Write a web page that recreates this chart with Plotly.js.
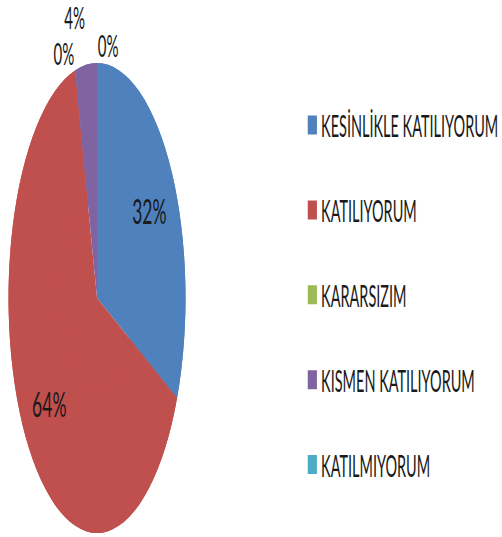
<!DOCTYPE html>
<html><head><meta charset="utf-8">
<script src="https://cdn.plot.ly/plotly-3.0.1.min.js"></script>
<style>
html,body{margin:0;padding:0;overflow:hidden;background:#fff;width:502px;height:537px}
#wrap{position:absolute;left:0;top:0;width:1092px;height:537px;transform:scaleX(0.46);transform-origin:0 0}
#chart{width:1092px;height:537px}
#chart .pielayer g.trace{transform-box:view-box;transform-origin:102px 298px;transform:scaleX(0.8187)}
#chart .pielayer g.slicetext{transform-box:fill-box;transform-origin:center;transform:scaleX(1.3276)}
#chart .pielayer path.textline{display:none}
#chart path.legendpie{d:path('M-9,9.5H11V-9.5H-9Z')}
</style>
</head><body>
<div id="wrap"><div id="chart"></div></div>
<script>
const categories = ['KESİNLİKLE KATILIYORUM', 'KATILIYORUM', 'KARARSIZIM', 'KISMEN KATILIYORUM', 'KATILMIYORUM'];
const counts = [8, 16, 0, 1, 0];
const colors = ['#4F81BD', '#C0504D', '#9BBB59', '#8064A2', '#4BACC6'];

const legendLabels = categories.map(c => c + '<br> ');
const pieDomain = {x: [0, 470 / 1092], y: [4 / 537, 474 / 537]};
const insideFont = {family: 'Lato, sans-serif', size: 35, color: '#1a1a1a'};
const outsideFont = {family: 'Lato, sans-serif', size: 30, color: '#1a1a1a'};

// full pie underneath (slices only)
const basePie = {
  type: 'pie',
  labels: legendLabels,
  values: counts,
  sort: false,
  direction: 'clockwise',
  rotation: 0,
  marker: {colors: colors, line: {width: 0}},
  textinfo: 'none',
  hoverinfo: 'none',
  showlegend: false,
  domain: pieDomain
};

// ring on top carries the percentage labels (placed at ~70% of the radius) and the legend
const labelPie = {
  type: 'pie',
  labels: legendLabels,
  values: counts,
  sort: false,
  direction: 'clockwise',
  rotation: 0,
  hole: 0.4,
  marker: {colors: colors, line: {width: 0}},
  textinfo: 'percent',
  textposition: ['inside', 'inside', 'outside', 'outside', 'outside'],
  insidetextorientation: 'horizontal',
  textfont: insideFont,
  insidetextfont: insideFont,
  outsidetextfont: outsideFont,
  hoverinfo: 'none',
  domain: pieDomain
};

const layout = {
  width: 1092, height: 537,
  margin: {l: 0, r: 0, t: 0, b: 0},
  paper_bgcolor: '#ffffff',
  showlegend: true,
  legend: {
    x: 658 / 1092, xanchor: 'left',
    y: 1 - 98 / 537, yanchor: 'top',
    valign: 'top',
    bgcolor: 'rgba(0,0,0,0)',
    font: {family: 'Lato, sans-serif', size: 31.5, color: '#1a1a1a'}
  }
};

Plotly.newPlot('chart', [basePie, labelPie], layout, {displayModeBar: false, staticPlot: true});
</script>
</body></html>
